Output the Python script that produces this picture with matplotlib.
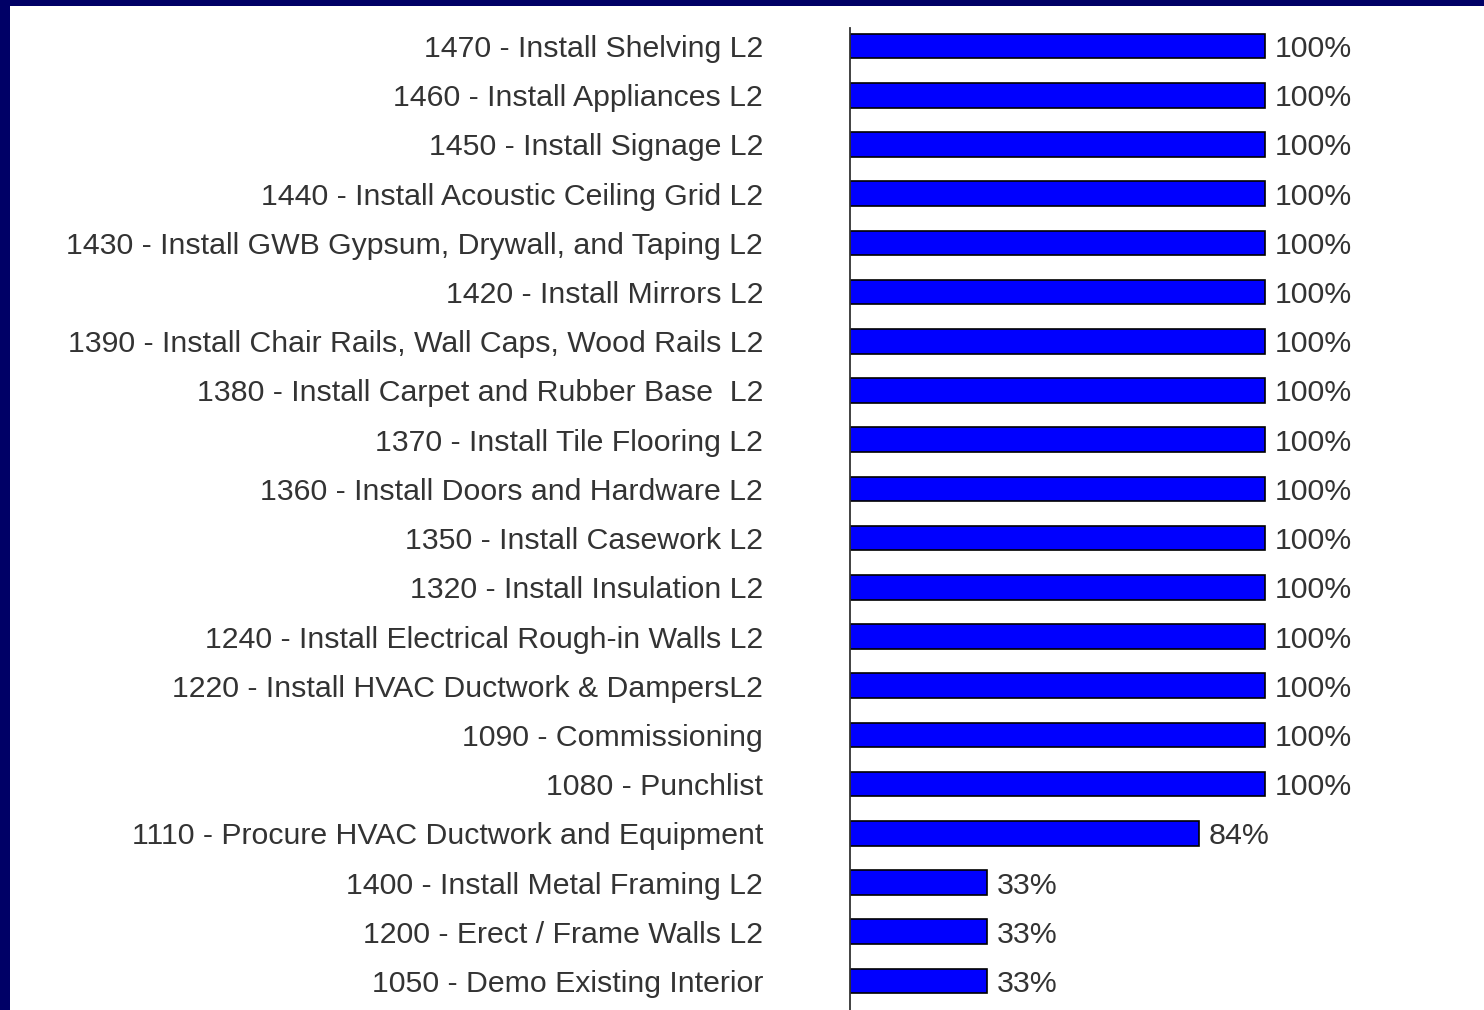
import matplotlib.pyplot as plt
from matplotlib.patches import Rectangle

tareas = [
    '1470 - Install Shelving L2',
    '1460 - Install Appliances L2',
    '1450 - Install Signage L2',
    '1440 - Install Acoustic Ceiling Grid L2',
    '1430 - Install GWB Gypsum, Drywall, and Taping L2',
    '1420 - Install Mirrors L2',
    '1390 - Install Chair Rails, Wall Caps, Wood Rails L2',
    '1380 - Install Carpet and Rubber Base  L2',
    '1370 - Install Tile Flooring L2',
    '1360 - Install Doors and Hardware L2',
    '1350 - Install Casework L2',
    '1320 - Install Insulation L2',
    '1240 - Install Electrical Rough-in Walls L2',
    '1220 - Install HVAC Ductwork & DampersL2',
    '1090 - Commissioning',
    '1080 - Punchlist',
    '1110 - Procure HVAC Ductwork and Equipment',
    '1400 - Install Metal Framing L2',
    '1200 - Erect / Frame Walls L2',
    '1050 - Demo Existing Interior',
]
avance = [100, 100, 100, 100, 100, 100, 100, 100, 100, 100,
          100, 100, 100, 100, 100, 100, 84, 33, 33, 33]

W, H = 1484, 1010
fig = plt.figure(figsize=(W / 100, H / 100), dpi=100)
fig.patch.set_facecolor('#000066')
# fondo blanco de la diapositiva
fig.patches.append(Rectangle((10 / W, 0), 1 - 10 / W, 1 - 6 / H,
                             transform=fig.transFigure, facecolor='white',
                             edgecolor='none', zorder=-10))

ax = fig.add_axes([850 / W, 0, 1 - 850 / W, 1 - 28 / H])
ax.set_facecolor('none')

n = len(tareas)
pos = list(range(n - 1, -1, -1))
ax.barh(pos, avance, height=0.5, color='#0000FF', edgecolor='black', linewidth=1.2)

for y, v in zip(pos, avance):
    ax.text(v + 2.3, y, f'{v}%', va='center_baseline', ha='left', fontsize=21.8,
            family='Liberation Sans', color='#333333')

ax.set_xlim(0, 634 / 415 * 100)
ax.set_ylim(-29 / 49.2, n - 1 + 18 / 49.2)
ax.set_yticks(pos)
ax.set_yticklabels(tareas, fontsize=21.8, family='Liberation Sans', color='#333333')
ax.tick_params(axis='y', length=0, pad=62.5)
ax.set_xticks([])
for lado in ['top', 'right', 'bottom']:
    ax.spines[lado].set_visible(False)
ax.spines['left'].set_color('#333333')
ax.spines['left'].set_linewidth(1.3)

fig.savefig('out.png', dpi=100, facecolor=fig.get_facecolor())
